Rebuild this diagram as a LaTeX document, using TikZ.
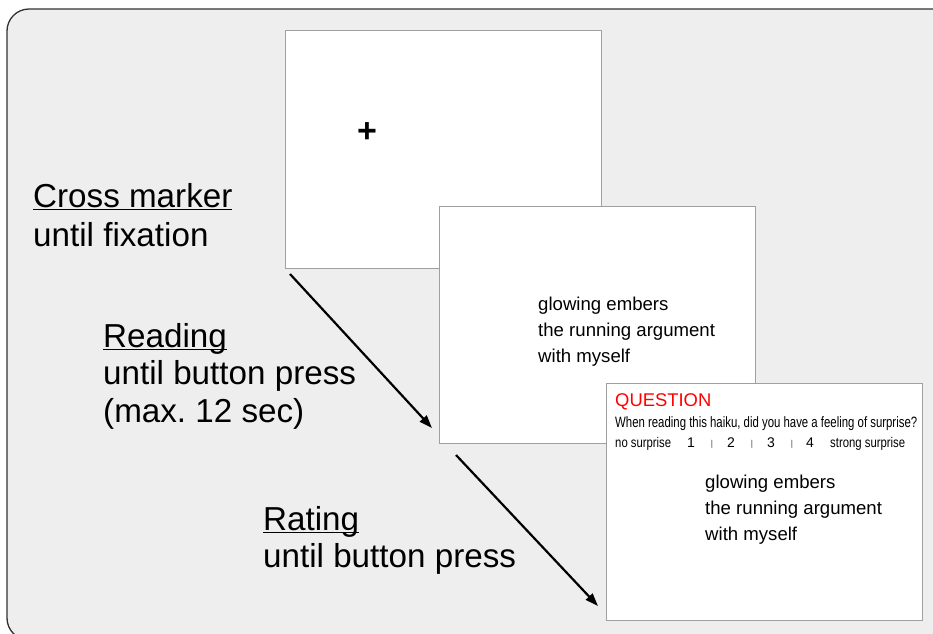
\documentclass[tikz,border=0pt]{standalone}
\usepackage{fontspec}
\setmainfont{Liberation Sans}
\usepackage{graphicx}
\usetikzlibrary{arrows.meta}
\frenchspacing
\definecolor{bggray}{RGB}{238,238,238}
\definecolor{boxgray}{RGB}{160,160,160}
\definecolor{framegray}{RGB}{50,50,50}
\definecolor{qred}{RGB}{255,0,0}
\newlength\myulw
\newcommand\myul[1]{\settowidth\myulw{#1}\makebox[0pt][l]{\rule[-3pt]{\myulw}{1.4pt}}#1}
\tikzset{
  screen/.style={draw=boxgray, line width=1pt, fill=white, anchor=north west, inner sep=0pt},
  arr/.style={line width=2.2pt, -{Triangle[length=13pt,width=9pt]}},
  big/.style={anchor=base west, inner sep=0pt, font=\fontsize{33.2}{38}\selectfont},
  haiku/.style={anchor=base west, inner sep=0pt, font=\fontsize{18.6}{22}\selectfont},
  small/.style={anchor=base west, inner sep=0pt, font=\fontsize{15}{17}\selectfont},
  scalefont/.style={anchor=base west, inner sep=0pt, font=\fontsize{14}{16}\selectfont},
  tick/.style={anchor=base, inner sep=0pt, font=\fontsize{14}{16}\selectfont},
  bar/.style={anchor=base, inner sep=0pt, font=\fontsize{8.5}{9}\selectfont, text=black!75},
}
\begin{document}
\begin{tikzpicture}[x=1pt,y=-1pt]
\useasboundingbox (0,0) rectangle (933,633);
\fill[white] (0,0) rectangle (933,633);
\begin{scope}
\clip (0,0) rectangle (933,633);
\draw[draw=framegray, line width=1.3pt, fill=bggray, rounded corners=22pt] (7,9) rectangle (958,640);
\end{scope}
% screens
\node[screen, minimum width=316pt, minimum height=238pt] (s1) at (285,30) {};
\node[screen, minimum width=316pt, minimum height=237pt] (s2) at (439,206) {};
\node[screen, minimum width=316pt, minimum height=237pt] (s3) at (606,383) {};
% fixation cross
\node[anchor=base, inner sep=0pt, font=\fontsize{34}{40}\selectfont\bfseries] (plus) at (367,142) {+};
% arrows
\coordinate (a1s) at (290,274);
\coordinate (a1e) at (432,428);
\coordinate (a2s) at (456,455);
\coordinate (a2e) at (598,606);
\draw[arr] (a1s) -- (a1e);
\draw[arr] (a2s) -- (a2e);
% left labels
\node[big] (l1a) at (33,207) {\myul{Cross marker}};
\node[big] (l1b) at (33,246) {until fixation};
\node[big] (l2a) at (103,347) {\myul{Reading}};
\node[big] (l2b) at (103,384) {until button press};
\node[big] (l2c) at (103,422) {(max. 12 sec)};
\node[big] (l3a) at (263,530) {\myul{Rating}};
\node[big] (l3b) at (263,567) {until button press};
% haiku on screen 2
\node[haiku] (h1) at (538,310) {glowing embers};
\node[haiku] (h2) at (538,336) {the running argument};
\node[haiku] (h3) at (538,362) {with myself};
% rating screen
\node[anchor=base west, inner sep=0pt, font=\fontsize{18.4}{22}\selectfont, text=qred] (q) at (615,406) {QUESTION};
\node[small] (qt) at (615,427) {\resizebox{302pt}{\height}{When reading this haiku, did you have a feeling of surprise?}};
\node[scalefont] (lo) at (615,447) {\resizebox{56pt}{\height}{no surprise}};
\node[tick] (n1) at (691,447) {1};
\node[bar] (b1) at (712,446) {|};
\node[tick] (n2) at (731,447) {2};
\node[bar] (b2) at (752,446) {|};
\node[tick] (n3) at (771,447) {3};
\node[bar] (b3) at (792,446) {|};
\node[tick] (n4) at (810,447) {4};
\node[scalefont] (hi) at (830,447) {\resizebox{75pt}{\height}{strong surprise}};
\node[haiku] (k1) at (705,488) {glowing embers};
\node[haiku] (k2) at (705,514) {the running argument};
\node[haiku] (k3) at (705,540) {with myself};
\end{tikzpicture}
\end{document}
